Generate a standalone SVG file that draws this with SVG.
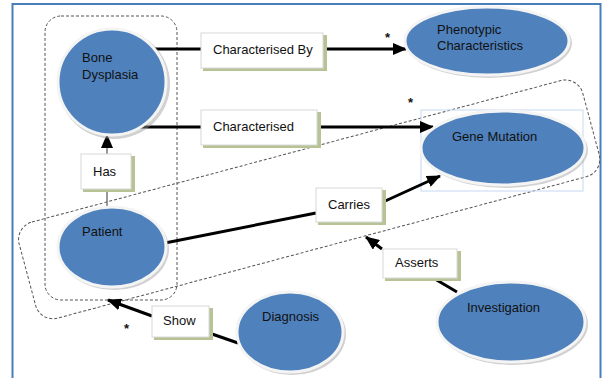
<svg xmlns="http://www.w3.org/2000/svg" width="606" height="378" viewBox="0 0 606 378">
<style>
.node ellipse.sh{fill:#9a9a9a;opacity:.45}
.node ellipse.body{fill:#4f81bd;stroke:#f4f4f4;stroke-width:3}
.lbl{font-family:"Liberation Sans",Arial,sans-serif;font-size:13px;fill:#111}
.box .shb{fill:#b7c394}
.box .bx{fill:#ffffff;stroke:#d8d8d8;stroke-width:1}
.c{stroke:#000;stroke-width:3;fill:none}
.thin{stroke:#777;stroke-width:1.5;fill:none}
.dash{fill:none;stroke:#555;stroke-width:1;stroke-dasharray:3,2}
.star{font-family:"Liberation Sans",Arial,sans-serif;font-size:13px;font-weight:bold;fill:#111}
</style>
<defs>
<marker id="ah" markerUnits="userSpaceOnUse" markerWidth="14" markerHeight="12" refX="13" refY="6" orient="auto">
<path d="M0,0 L14,6 L0,12 z" fill="#000"/>
</marker>
</defs>
<rect x="0" y="0" width="606" height="378" fill="#ffffff"/>
<rect x="12.5" y="4" width="588" height="380" fill="none" stroke="#4a7ebb" stroke-width="2"/>

<g id="groups">
<rect class="dash" x="45" y="16" width="132" height="284" rx="16"/>
<rect class="dash" x="17.5" y="149.6" width="583.4" height="99.5" rx="18" transform="rotate(-14.97 309.2 199.35)"/>
<rect x="421" y="110" width="162" height="81" fill="none" stroke="#c6d9f1" stroke-width="1"/>
</g>

<g id="connectors">
<line class="c" x1="153" y1="49" x2="201" y2="49"/>
<line class="c" x1="325" y1="49" x2="406" y2="49" marker-end="url(#ah)"/>
<line class="c" x1="131" y1="127" x2="201" y2="127"/>
<line class="c" x1="319" y1="127" x2="433" y2="127" marker-end="url(#ah)"/>
<line class="thin" x1="107" y1="154" x2="107" y2="135" marker-end="url(#ah)"/>
<line class="thin" x1="107" y1="207" x2="107" y2="190"/>
<line class="c" x1="165" y1="243" x2="316" y2="213"/>
<line class="c" x1="383" y1="202" x2="440" y2="176" marker-end="url(#ah)"/>
<line class="c" x1="457" y1="292" x2="435" y2="279"/>
<line class="c" x1="382" y1="249" x2="366" y2="237" marker-end="url(#ah)"/>
<line class="c" x1="238" y1="343" x2="212" y2="334"/>
<line class="c" x1="152" y1="316" x2="108" y2="300" marker-end="url(#ah)"/>
</g>

<g id="bone-dysplasia" class="node">
<ellipse class="sh" cx="114" cy="84" rx="56" ry="55"/>
<ellipse class="body" cx="112" cy="82" rx="54" ry="53"/>
<text class="lbl" x="82" y="62">Bone</text>
<text class="lbl" x="82" y="79">Dysplasia</text>
</g>

<g id="phenotypic" class="node">
<ellipse class="sh" cx="489" cy="43" rx="83" ry="35"/>
<ellipse class="body" cx="487" cy="41" rx="82" ry="34"/>
<text class="lbl" x="437" y="34">Phenotypic</text>
<text class="lbl" x="437" y="50">Characteristics</text>
</g>

<g id="gene-mutation" class="node">
<ellipse class="sh" cx="505" cy="150" rx="83" ry="38"/>
<ellipse class="body" cx="503" cy="148" rx="82" ry="37"/>
<text class="lbl" x="452" y="141">Gene Mutation</text>
</g>

<g id="patient" class="node">
<ellipse class="sh" cx="114" cy="249" rx="55" ry="41"/>
<ellipse class="body" cx="112" cy="247" rx="54" ry="40"/>
<text class="lbl" x="82" y="236">Patient</text>
</g>

<g id="diagnosis" class="node">
<ellipse class="sh" cx="292" cy="334" rx="54" ry="41"/>
<ellipse class="body" cx="290" cy="332" rx="53" ry="40"/>
<text class="lbl" x="262" y="321">Diagnosis</text>
</g>

<g id="investigation" class="node">
<ellipse class="sh" cx="513" cy="324" rx="75" ry="41"/>
<ellipse class="body" cx="511" cy="322" rx="74" ry="40"/>
<text class="lbl" x="467" y="312">Investigation</text>
</g>

<g id="characterised-by" class="box">
<rect class="shb" x="203" y="35" width="124" height="36"/>
<rect class="bx" x="201" y="33" width="122" height="35"/>
<text class="lbl" x="213" y="54">Characterised By</text>
</g>

<g id="characterised" class="box">
<rect class="shb" x="203" y="112" width="118" height="36"/>
<rect class="bx" x="201" y="110" width="116" height="35"/>
<text class="lbl" x="213" y="131">Characterised</text>
</g>

<g id="has" class="box">
<rect class="shb" x="83" y="156" width="52" height="36"/>
<rect class="bx" x="81" y="154" width="50" height="35"/>
<text class="lbl" x="93" y="176">Has</text>
</g>

<g id="carries" class="box">
<rect class="shb" x="318" y="190" width="68" height="35"/>
<rect class="bx" x="316" y="188" width="66" height="34"/>
<text class="lbl" x="328" y="209">Carries</text>
</g>

<g id="asserts" class="box">
<rect class="shb" x="385" y="251" width="76" height="30"/>
<rect class="bx" x="383" y="249" width="74" height="29"/>
<text class="lbl" x="395" y="267">Asserts</text>
</g>

<g id="show" class="box">
<rect class="shb" x="154" y="308" width="59" height="32"/>
<rect class="bx" x="152" y="306" width="57" height="31"/>
<text class="lbl" x="163" y="325">Show</text>
</g>

<g id="stars">
<text class="star" x="385" y="42">*</text>
<text class="star" x="408" y="107">*</text>
<text class="star" x="124" y="333">*</text>
</g>
</svg>
